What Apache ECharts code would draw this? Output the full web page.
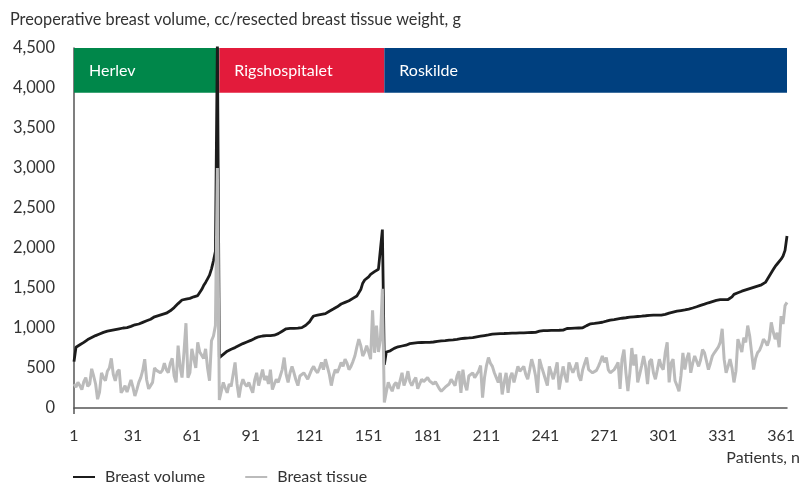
<!DOCTYPE html>
<html><head><meta charset="utf-8">
<script src="https://cdn.jsdelivr.net/npm/echarts@6/dist/echarts.min.js"></script>
<style>html,body{margin:0;padding:0;background:#fff}#c{width:802px;height:483px}</style>
</head><body><div id="c"></div>
<script>
// Preoperative breast volume (cc) per patient, sorted within each hospital
const volumeHerlev = [580,760,780,790,800,820,840,855,865,880,
895,905,915,925,935,945,950,960,965,970,
975,980,985,990,995,1000,1000,1005,1010,1020,
1030,1040,1045,1050,1060,1070,1080,1090,1100,1110,
1125,1140,1150,1155,1160,1170,1175,1185,1200,1215,
1235,1255,1280,1305,1330,1350,1355,1360,1365,1370,
1380,1390,1400,1405,1430,1480,1530,1570,1615,1660,
1740,1840,1960,4600];
const volumeRigs = [630,650,670,690,710,725,735,745,755,765,
780,795,805,815,825,835,845,860,870,880,
890,895,900,902,904,905,905,905,910,915,
930,944,960,975,990,994,995,995,995,995,
998,1000,1005,1020,1035,1050,1080,1120,1150,1155,
1160,1165,1170,1174,1180,1195,1210,1225,1237,1250,
1265,1285,1300,1310,1320,1330,1340,1355,1370,1385,
1400,1420,1480,1560,1600,1615,1640,1670,1690,1705,
1715,1735,1760,2230];
const volumeRoskilde = [540,700,710,715,730,745,755,765,770,775,
780,785,795,805,810,812,815,816,818,819,
820,820,820,820,822,825,828,832,835,838,
840,842,845,848,850,852,855,858,862,866,
869,872,874,876,878,881,885,890,895,898,
902,906,910,914,918,923,925,927,928,929,
930,931,932,934,936,936,936,937,938,939,
940,940,941,942,943,944,944,945,955,960,
965,966,967,968,969,970,970,971,972,972,
973,974,985,994,995,996,997,998,999,1000,
1001,1002,1003,1030,1049,1052,1055,1058,1062,1065,
1068,1072,1078,1085,1092,1099,1102,1106,1110,1114,
1118,1122,1125,1128,1132,1135,1138,1140,1142,1144,
1146,1148,1150,1153,1156,1159,1162,1162,1162,1162,
1162,1162,1163,1170,1178,1186,1192,1198,1204,1210,
1214,1218,1222,1226,1230,1236,1242,1250,1258,1266,
1275,1283,1290,1298,1306,1315,1322,1330,1338,1345,
1352,1354,1354,1354,1355,1356,1360,1390,1420,1430,
1440,1450,1460,1468,1476,1484,1492,1500,1508,1516,
1524,1532,1540,1552,1570,1610,1650,1690,1730,1770,
1800,1820,1860,1900,1970,2150];

// Resected breast tissue weight (g) per patient
const tissueHerlev = [300,260,320,280,230,330,380,270,300,490,
400,300,110,200,440,380,340,460,500,620,
420,340,450,480,190,230,280,200,190,350,
260,150,230,320,380,470,610,350,240,280,
320,500,470,490,440,470,560,480,440,560,
620,400,320,780,520,380,700,1060,380,440,
740,620,500,820,700,690,620,740,500,340,
840,900,1030,3000];
const tissueRigs = [100,120,320,250,190,300,270,420,570,300,
130,280,360,300,270,320,250,190,350,440,
280,380,480,350,400,300,480,230,300,360,
320,400,480,630,420,320,440,520,440,350,
280,400,380,440,400,360,420,480,520,470,
440,500,570,480,610,630,420,280,400,480,
440,500,570,520,610,560,480,520,580,650,
760,860,780,650,700,780,700,610,1220,690,
1030,700,860,1490];
const tissueRoskilde = [70,200,320,260,210,290,320,240,250,440,
280,350,460,330,280,340,380,240,300,360,
330,320,380,340,320,300,330,340,240,210,
220,260,280,300,360,320,280,400,460,190,
480,300,220,400,420,440,380,360,460,530,
130,380,530,630,560,520,440,380,320,440,
170,320,440,190,380,440,320,420,520,460,
440,520,420,360,480,610,520,400,190,610,
520,440,360,280,520,440,360,460,570,230,
380,520,400,320,570,500,440,500,570,400,
340,480,560,630,480,460,440,420,470,520,
580,650,570,630,480,440,460,480,520,570,
240,610,730,440,210,440,750,530,670,320,
420,530,650,520,300,580,610,440,360,480,
610,520,480,690,820,320,560,610,340,280,
210,400,690,480,620,690,440,560,650,630,
520,600,730,690,590,480,560,650,690,710,
760,820,990,610,440,520,610,500,320,460,
860,780,700,880,820,1030,900,690,480,620,
690,720,780,860,830,780,860,1070,950,860,
940,760,1150,1050,1280,1320];

const hospitals = ['Herlev', 'Rigshospitalet', 'Roskilde'];
const seriesNames = ['Breast volume', 'Breast tissue'];
const yTicks = [0, 500, 1000, 1500, 2000, 2500, 3000, 3500, 4000, 4500];
const bandRange = [3940, 4500];

const volume = volumeHerlev.concat(volumeRigs, volumeRoskilde);
const tissue = tissueHerlev.concat(tissueRigs, tissueRoskilde);
const patients = volume.map((_, i) => String(i + 1));

const groupLengths = [volumeHerlev.length, volumeRigs.length, volumeRoskilde.length];
const bandColors = ['#00874a', '#e31b3b', '#00407f'];
const bands = [];
let off = 0;
groupLengths.forEach((len, k) => {
  const s = off, e = Math.min(off + len, patients.length - 1);
  bands.push([
    { name: hospitals[k], xAxis: patients[s], yAxis: bandRange[0], itemStyle: { color: bandColors[k], opacity: 1 } },
    { xAxis: patients[e], yAxis: bandRange[1] }
  ]);
  off += len;
});

const FONT = 'Lato';
const chart = echarts.init(document.getElementById('c'), null, { renderer: 'canvas' });
chart.setOption({
  animation: false,
  backgroundColor: '#fff',
  textStyle: { fontFamily: FONT },
  grid: { left: 74, right: 15, top: 48, bottom: 75, containLabel: false },
  graphic: [
    { type: 'text', left: 10, top: 12, style: { text: 'Preoperative breast volume, cc/resected breast tissue weight, g', fontFamily: FONT, fontSize: 16.3, fill: '#333' } },
    { type: 'text', right: 2, top: 450, style: { text: 'Patients, n', fontFamily: FONT, fontSize: 16, fill: '#333' } }
  ],
  legend: {
    data: seriesNames, left: 68, top: 464, icon: 'rect', itemWidth: 22, itemHeight: 2, itemGap: 40,
    textStyle: { fontFamily: FONT, fontSize: 16, color: '#333', padding: [0, 0, 0, 5] }
  },
  xAxis: {
    type: 'category', data: patients, boundaryGap: false,
    axisLine: { lineStyle: { color: '#555', width: 1.5 } },
    axisTick: { show: true, interval: (i) => i === 0, length: 6, lineStyle: { color: '#555', width: 1.5 } },
    axisLabel: { interval: 29, color: '#333', fontSize: 16, margin: 20, fontFamily: FONT },
    splitLine: { show: false }
  },
  yAxis: {
    type: 'value', min: yTicks[0], max: yTicks[yTicks.length - 1], interval: yTicks[1] - yTicks[0],
    axisLine: { show: true, lineStyle: { color: '#555', width: 1.5 } },
    axisTick: { show: false },
    splitLine: { show: false },
    axisLabel: { color: '#333', fontSize: 16.5, margin: 19, fontFamily: FONT,
      formatter: (v) => v.toLocaleString('en-US') }
  },
  series: [
    {
      name: seriesNames[0], type: 'line', data: volume, color: '#1c1c1c',
      symbol: 'none', lineStyle: { color: '#1c1c1c', width: 2.8 }, z: 3,
      markArea: {
        silent: true,
        label: { show: true, position: 'insideLeft', distance: 15, color: '#fff', fontSize: 16, fontFamily: FONT },
        data: bands
      }
    },
    {
      name: seriesNames[1], type: 'line', data: tissue, color: '#bbbbbb',
      symbol: 'none', lineStyle: { color: '#bbbbbb', width: 3 }, z: 4
    }
  ]
});
</script></body></html>
